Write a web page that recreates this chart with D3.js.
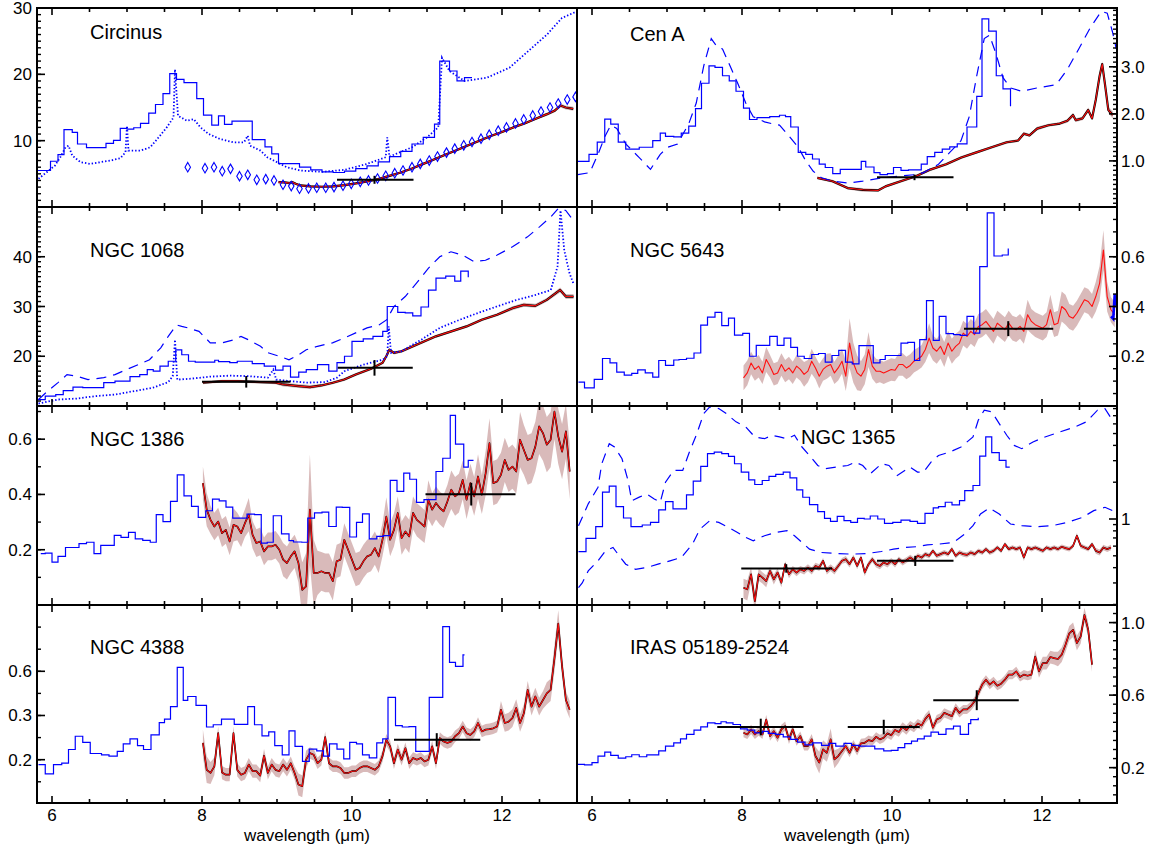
<!DOCTYPE html>
<html><head><meta charset="utf-8">
<script src="https://cdn.jsdelivr.net/npm/d3@7"></script>
<style>body{margin:0;background:#fff;} text{font-family:"Liberation Sans",Arial,Helvetica,sans-serif;fill:#000;}</style>
</head><body><svg id="c" width="1153" height="852"></svg>
<script>
// ===================== DATA (wavelength in micron, flux in plot units) =====================
const panelNames = ["Circinus","Cen A","NGC 1068","NGC 5643","NGC 1386","NGC 1365","NGC 4388","IRAS 05189-2524"];
const xMajorTicks = [6,8,10,12];

// ---- Circinus ----
const circTicks = [10,20,30], circTickLabels = ["10","20","30"];
const circStepWave = [5.80,5.98,6.08,6.16,6.27,6.34,6.46,6.72,6.82,6.91,7.00,7.09,7.18,7.29,7.38,7.48,7.57,7.66,7.76,7.93,8.02,8.13,8.22,8.30,8.40,8.67,8.84,8.93,9.02,9.30,9.45,9.60,9.75,9.90,10.05,10.20,10.35,10.50,10.65,10.80,10.95,11.10,11.17,11.30,11.40,11.50];
const circStepFlux = [5.5,6.9,7.9,11.65,11.25,9.5,8.95,9.6,10.05,11.85,11.75,11.95,12.6,14.15,15.45,17.1,20.1,19.25,18.75,16.35,13.85,12.35,13.75,12.45,12.95,10.15,9.05,8.0,6.55,6.0,5.6,5.3,5.2,5.4,5.8,6.2,6.8,7.6,8.4,9.5,10.5,12.5,22.0,20.5,19.0,19.5];
const circStepEnd = [11.6, 19.5];
const circDotWave = [5.82,5.93,6.04,6.11,6.18,6.22,6.27,6.38,6.51,6.64,6.78,6.91,6.98,7.00,7.02,7.18,7.31,7.44,7.53,7.62,7.64,7.68,7.80,7.89,7.98,8.09,8.24,8.42,8.56,8.61,8.64,8.78,8.87,9.00,9.13,9.31,9.60,9.90,10.20,10.45,10.47,10.50,10.80,11.00,11.15,11.20,11.30,11.50,11.80,12.10,12.40,12.60,12.80,13.00];
const circDotFlux = [4.25,5.25,6.25,7.5,9.0,9.25,7.75,6.75,6.5,6.75,7.0,7.35,8.25,12.25,8.5,8.5,9.0,10.75,12.0,13.5,20.75,13.75,13.0,13.25,12.0,11.0,10.25,9.75,9.75,10.75,9.25,8.5,7.5,6.75,6.0,5.5,5.3,5.6,6.5,7.5,10.5,7.6,9.0,10.5,12.0,22.5,20.5,19.0,19.5,21.0,24.0,26.0,28.5,29.5];
const circDiaWave = [7.81,8.04,8.16,8.27,8.38,8.50,8.61,8.73,8.85,8.96,9.08,9.19,9.30,9.42,9.53,9.65,9.76,9.88,9.99,10.11,10.22,10.34,10.45,10.57,10.68,10.80,10.91,11.03,11.14,11.26,11.37,11.49,11.60,11.72,11.83,11.95,12.06,12.18,12.29,12.41,12.52,12.64,12.75,12.87,12.98];
const circDiaFlux = [6.0,5.85,6.0,5.4,5.75,4.65,4.85,4.1,4.2,4.0,3.35,3.15,2.75,2.8,2.9,2.9,3.0,3.2,3.5,3.8,4.0,4.3,4.7,5.1,5.5,6.0,6.5,7.0,7.6,8.2,8.8,9.3,9.8,10.3,10.9,11.5,12.0,12.6,13.2,13.8,14.4,15.0,15.6,16.2,16.6];
const circRedWave = [9.02,9.10,9.17,9.20,9.25,9.31,9.45,9.60,9.75,9.90,10.05,10.20,10.35,10.50,10.65,10.80,10.95,11.10,11.25,11.40,11.55,11.70,11.85,12.00,12.15,12.30,12.45,12.60,12.70,12.78,12.85,12.95];
const circRedFlux = [3.75,3.7,3.6,3.75,3.5,3.25,3.1,3.05,3.1,3.3,3.55,3.85,4.2,4.7,5.2,5.8,6.5,7.2,7.9,8.6,9.3,10.0,10.7,11.3,12.0,12.6,13.3,14.0,14.5,15.3,15.0,14.8];
const circRedErr = [0.2,0.2,0.2,0.2,0.2,0.2,0.2,0.2,0.2,0.2,0.2,0.2,0.2,0.2,0.2,0.2,0.2,0.2,0.2,0.2,0.2,0.2,0.2,0.2,0.2,0.2,0.2,0.25,0.25,0.3,0.3,0.3];
const circBarWave = [10.3], circBarLo = [9.8], circBarHi = [10.82], circBarFlux = [4.1], circBarErrLo = [0.6], circBarErrHi = [0.6];

// ---- Cen A ----
const cenTicks = [1,2,3], cenTickLabels = ["1.0","2.0","3.0"];
const cenStepWave = [5.81,5.96,6.07,6.17,6.25,6.35,6.45,6.63,6.81,6.91,6.98,7.09,7.19,7.29,7.38,7.46,7.56,7.64,7.74,7.83,7.92,8.02,8.10,8.20,8.37,8.50,8.58,8.65,8.75,8.85,8.94,9.03,9.11,9.21,9.31,9.59,9.65,9.76,9.84,9.94,10.02,10.12,10.22,10.39,10.47,10.57,10.67,10.77,10.87,11.0,11.13,11.2,11.29,11.39,11.48];
const cenStepFlux = [0.99,1.14,1.40,1.89,1.78,1.40,1.25,1.29,1.43,1.59,1.52,1.51,1.59,1.74,2.11,2.65,3.02,2.99,2.81,2.70,2.48,2.12,1.88,1.92,1.94,1.97,1.94,1.72,1.18,1.14,1.04,0.93,0.86,0.73,0.82,0.99,0.87,0.75,0.71,0.73,0.86,0.80,0.81,0.93,1.09,1.18,1.25,1.30,1.36,1.72,2.37,4.02,3.76,2.81,2.53];
const cenStepEnd = [11.58, 2.16];
const cenDashWave = [5.81,5.97,6.08,6.17,6.25,6.33,6.45,6.63,6.78,6.91,7.01,7.14,7.29,7.39,7.49,7.59,7.67,7.74,7.84,7.94,8.05,8.15,8.30,8.40,8.50,8.60,8.75,8.85,8.95,9.06,9.21,9.41,9.61,9.86,10.12,10.32,10.42,10.62,10.77,10.92,11.03,11.13,11.23,11.30,11.38,11.48,11.58,11.73,11.93,12.19,12.34,12.49,12.64,12.79,12.87,12.94,12.99];
const cenDashFlux = [0.71,0.75,1.14,1.51,1.76,1.69,1.36,1.07,0.82,1.14,1.29,1.36,1.79,2.23,3.02,3.60,3.42,3.38,3.02,2.66,2.23,1.94,1.83,1.79,1.76,1.58,1.29,1.0,0.78,0.64,0.57,0.53,0.57,0.64,0.68,0.71,0.75,0.93,1.18,1.43,1.94,2.81,3.60,3.67,3.31,2.77,2.55,2.48,2.55,2.62,2.95,3.38,3.82,4.18,4.14,3.74,3.38];
const cenRedWave = [9.005,9.207,9.409,9.611,9.813,9.914,10.116,10.318,10.52,10.722,10.924,11.126,11.328,11.53,11.682,11.758,11.833,11.934,12.086,12.237,12.338,12.414,12.45,12.54,12.616,12.667,12.717,12.768,12.803,12.843,12.884,12.944];
const cenRedFlux = [0.639,0.567,0.422,0.386,0.372,0.458,0.567,0.675,0.82,0.928,1.072,1.181,1.289,1.397,1.433,1.578,1.542,1.686,1.758,1.794,1.852,1.975,1.866,1.903,2.083,1.903,2.3,2.805,3.058,2.588,2.083,1.975];
const cenRedErr = [0.03,0.03,0.03,0.04,0.03,0.03,0.03,0.03,0.03,0.03,0.03,0.03,0.03,0.03,0.03,0.04,0.03,0.04,0.03,0.03,0.04,0.05,0.04,0.04,0.05,0.04,0.05,0.06,0.06,0.05,0.06,0.08];
const cenBarWave = [10.3], cenBarLo = [9.80], cenBarHi = [10.82], cenBarFlux = [0.65], cenBarErrLo = [0.06], cenBarErrHi = [0.06];

// ---- NGC 1068 ----
const n1068Ticks = [20,30,40], n1068TickLabels = ["20","30","40"];
const n1068StepWave = [5.81,5.91,6.05,6.15,6.28,6.41,6.69,6.84,7.04,7.17,7.27,7.35,7.44,7.55,7.65,7.73,7.82,7.91,8.17,8.22,8.37,8.47,8.67,8.83,8.98,9.08,9.18,9.29,9.39,9.54,9.69,9.80,9.90,10.0,10.15,10.28,10.41,10.47,10.61,10.71,10.81,10.92,11.02,11.12,11.25,11.37,11.45];
const n1068StepFlux = [11.3,12,12.3,13.1,13.8,13.7,14.7,15,15.9,16.3,17.3,17,18,19,21.3,20.3,19,18.8,19.2,18.9,18.7,19,18.5,18,17.2,18,15.8,16.8,17.3,18.3,17,18.7,20,23,23.5,24,25,30,28.8,28.7,28.1,29.9,33.3,35.7,36.1,35.1,37.1];
const n1068StepEnd = [11.55, 35.9];
const n1068DashWave = [5.82,5.92,6.08,6.20,6.33,6.48,6.69,6.84,6.99,7.15,7.30,7.45,7.55,7.66,7.73,7.81,7.96,8.11,8.27,8.42,8.52,8.62,8.78,8.88,9.03,9.16,9.29,9.39,9.54,9.74,9.90,10.05,10.20,10.36,10.46,10.56,10.71,10.86,11.02,11.17,11.32,11.48,11.63,11.78,11.93,12.14,12.34,12.50,12.65,12.75,12.85,12.95];
const n1068DashFlux = [11.3,12.7,14.7,16.3,16.0,15.3,15.7,16.3,17.3,18.3,19.3,21.7,24.0,26.3,26.0,25.7,25.0,22.7,22.7,23.3,24.0,23.3,22.0,20.7,20.0,19.3,20.3,21.3,22.0,22.7,23.7,24.7,25.7,26.3,27.3,30.0,32.0,34.7,37.7,40.0,41.0,40.3,39.0,39.3,40.3,42.0,44.0,46.0,48.0,49.7,49.3,47.3];
const n1068DotWave = [5.82,6.08,6.33,6.59,6.84,7.10,7.35,7.55,7.61,7.64,7.67,7.86,8.11,8.37,8.62,8.88,8.95,8.99,9.18,9.39,9.64,9.80,9.90,10.15,10.41,10.47,10.49,10.52,10.66,10.92,11.17,11.43,11.68,11.93,12.19,12.44,12.65,12.74,12.78,12.83,12.90,12.95];
const n1068DotFlux = [10.5,11.3,11.5,12.0,12.3,13.0,13.7,14.8,16.0,23.3,15.3,15.5,15.9,16.1,16.0,15.7,17.3,15.3,15.0,14.7,14.8,15.7,17.0,18.3,19.3,20.0,26.0,20.7,21.0,23.3,25.7,27.3,28.7,30.0,31.3,32.3,33.3,38.0,49.3,41.3,36.7,34.7];
const n1068RedWave = [8.012,8.267,8.471,8.776,8.98,9.082,9.286,9.439,9.592,9.744,9.897,10.05,10.254,10.407,10.457,10.498,10.559,10.661,10.814,10.967,11.12,11.324,11.527,11.731,11.935,12.139,12.291,12.444,12.597,12.775,12.852,12.954];
const n1068RedFlux = [14.67,15,15,14.8,14.67,14.33,14,13.8,14.13,14.67,15.33,16.33,17.47,18.67,20,21.33,20.67,21,22,23,24,25,26,27.33,28.33,29.67,30.33,30.13,31.33,33.33,32,32];
const n1068RedErr = [0.3,0.3,0.3,0.3,0.3,0.4,0.4,0.4,0.3,0.3,0.3,0.3,0.3,0.3,0.3,0.3,0.3,0.3,0.3,0.3,0.3,0.3,0.3,0.3,0.3,0.4,0.4,0.4,0.4,0.5,0.5,0.5];
const n1068BarWave = [8.59,10.30], n1068BarLo = [8.0,9.81], n1068BarHi = [9.18,10.81], n1068BarFlux = [14.87,17.67], n1068BarErrLo = [1.17,1.57], n1068BarErrHi = [1.17,1.57];

// ---- NGC 5643 ----
const n5643Ticks = [0.2,0.4,0.6], n5643TickLabels = ["0.2","0.4","0.6"];
const n5643StepWave = [5.82,5.90,6.03,6.14,6.24,6.33,6.43,6.53,6.61,6.71,6.81,6.89,6.98,7.09,7.16,7.26,7.36,7.45,7.54,7.64,7.73,7.82,7.90,8.01,8.10,8.19,8.28,8.37,8.47,8.56,8.65,8.74,8.83,8.93,9.02,9.11,9.20,9.29,9.38,9.47,9.56,9.75,9.84,9.91,10.02,10.12,10.21,10.30,10.37,10.46,10.55,10.63,10.72,10.82,10.91,11.0,11.09,11.17,11.27,11.36,11.47];
const n5643StepFlux = [0.096,0.073,0.107,0.191,0.173,0.136,0.124,0.131,0.145,0.133,0.116,0.183,0.163,0.185,0.187,0.192,0.213,0.325,0.357,0.376,0.323,0.353,0.285,0.292,0.2,0.244,0.244,0.28,0.244,0.273,0.236,0.2,0.191,0.207,0.211,0.176,0.203,0.224,0.176,0.169,0.243,0.173,0.187,0.203,0.203,0.253,0.256,0.183,0.267,0.424,0.264,0.36,0.291,0.287,0.284,0.36,0.293,0.56,0.776,0.603,0.607];
const n5643StepEnd = [11.55, 0.633];
const n5643EdgeWave = [12.92,12.95,12.97,13.0];
const n5643EdgeFlux = [0.36,0.35,0.45,0.40];
const n5643RedRange = [8.02, 12.97];
const n5643RedFlux = [0.113,0.133,0.173,0.147,0.16,0.133,0.187,0.16,0.127,0.133,0.167,0.14,0.153,0.133,0.16,0.147,0.127,0.14,0.18,0.153,0.12,0.147,0.16,0.167,0.133,0.153,0.18,0.12,0.253,0.173,0.133,0.12,0.147,0.227,0.16,0.14,0.14,0.133,0.14,0.147,0.144,0.167,0.167,0.153,0.163,0.18,0.189,0.2,0.227,0.273,0.233,0.22,0.24,0.207,0.253,0.22,0.24,0.253,0.293,0.28,0.3,0.287,0.32,0.327,0.34,0.32,0.3,0.333,0.32,0.307,0.333,0.313,0.307,0.32,0.3,0.367,0.34,0.327,0.32,0.313,0.327,0.387,0.327,0.333,0.4,0.387,0.36,0.353,0.373,0.4,0.427,0.42,0.4,0.44,0.493,0.627,0.44,0.387,0.367];
const n5643RedErr = [0.05,0.05,0.045,0.045,0.045,0.045,0.05,0.045,0.045,0.045,0.045,0.045,0.045,0.045,0.045,0.045,0.05,0.045,0.05,0.045,0.05,0.045,0.05,0.045,0.045,0.05,0.05,0.06,0.1,0.08,0.07,0.06,0.06,0.07,0.05,0.05,0.045,0.045,0.045,0.045,0.045,0.045,0.045,0.045,0.045,0.045,0.045,0.045,0.05,0.06,0.05,0.05,0.05,0.05,0.05,0.05,0.05,0.05,0.05,0.05,0.05,0.05,0.05,0.05,0.05,0.05,0.05,0.05,0.05,0.05,0.05,0.05,0.05,0.05,0.05,0.06,0.05,0.05,0.05,0.05,0.05,0.06,0.05,0.05,0.06,0.06,0.05,0.05,0.05,0.05,0.05,0.05,0.05,0.06,0.07,0.08,0.06,0.05,0.05];
const n5643BarWave = [11.55], n5643BarLo = [10.96], n5643BarHi = [12.15], n5643BarFlux = [0.311], n5643BarErrLo = [0.03], n5643BarErrHi = [0.03];

// ---- NGC 1386 ----
const n1386Ticks = [0.2,0.4,0.6], n1386TickLabels = ["0.2","0.4","0.6"];
const n1386StepWave = [5.85,5.91,6.0,6.08,6.18,6.36,6.46,6.56,6.65,6.83,6.92,7.02,7.11,7.21,7.31,7.39,7.48,7.58,7.67,7.76,7.86,7.95,8.05,8.14,8.23,8.32,8.41,8.60,8.70,8.79,8.87,8.95,9.06,9.16,9.22,9.33,9.41,9.50,9.60,9.69,9.79,9.87,9.97,10.06,10.14,10.23,10.33,10.42,10.51,10.60,10.69,10.77,10.86,10.96,11.12,11.21,11.31,11.38,11.49,11.55];
const n1386StepFlux = [0.186,0.188,0.155,0.176,0.208,0.222,0.227,0.186,0.216,0.252,0.245,0.263,0.239,0.234,0.227,0.327,0.302,0.375,0.471,0.395,0.357,0.317,0.341,0.383,0.377,0.354,0.314,0.329,0.327,0.224,0.227,0.323,0.257,0.233,0.228,0.227,0.314,0.333,0.336,0.284,0.354,0.353,0.246,0.299,0.330,0.239,0.248,0.251,0.451,0.411,0.477,0.455,0.371,0.381,0.483,0.531,0.686,0.582,0.499,0.523];
const n1386StepEnd = [11.62, 0.523];
const n1386RedRange = [8.012, 12.903];
const n1386RedFlux = [0.441,0.345,0.308,0.284,0.302,0.26,0.272,0.23,0.29,0.284,0.26,0.296,0.327,0.254,0.224,0.23,0.194,0.212,0.212,0.218,0.2,0.164,0.152,0.176,0.194,0.152,0.055,0.067,0.345,0.116,0.116,0.122,0.116,0.116,0.086,0.158,0.164,0.236,0.2,0.164,0.128,0.134,0.158,0.176,0.182,0.206,0.176,0.236,0.32,0.236,0.272,0.333,0.242,0.266,0.248,0.333,0.308,0.296,0.284,0.381,0.345,0.369,0.351,0.339,0.375,0.417,0.393,0.405,0.453,0.381,0.441,0.393,0.465,0.399,0.477,0.586,0.441,0.447,0.471,0.525,0.489,0.501,0.483,0.598,0.561,0.525,0.531,0.573,0.646,0.622,0.58,0.598,0.7,0.61,0.555,0.628,0.483];
const n1386RedErr = [0.06,0.06,0.05,0.05,0.05,0.05,0.05,0.05,0.06,0.05,0.05,0.05,0.06,0.05,0.05,0.05,0.05,0.05,0.05,0.05,0.05,0.06,0.06,0.06,0.06,0.07,0.1,0.12,0.2,0.12,0.08,0.07,0.07,0.07,0.07,0.06,0.06,0.06,0.06,0.06,0.06,0.06,0.06,0.06,0.06,0.06,0.06,0.06,0.07,0.06,0.06,0.06,0.06,0.06,0.06,0.06,0.06,0.06,0.06,0.07,0.06,0.06,0.06,0.06,0.06,0.07,0.07,0.07,0.07,0.07,0.07,0.07,0.08,0.07,0.08,0.09,0.08,0.08,0.08,0.08,0.08,0.08,0.08,0.1,0.09,0.09,0.09,0.09,0.1,0.1,0.1,0.1,0.1,0.1,0.1,0.1,0.1];
const n1386BarWave = [11.59], n1386BarLo = [10.98], n1386BarHi = [12.18], n1386BarFlux = [0.401], n1386BarErrLo = [0.041], n1386BarErrHi = [0.041];

// ---- NGC 1365 (log axis) ----
const n1365Ticks = [1], n1365TickLabels = ["1"];
const n1365StepWave = [5.82,5.92,6.05,6.14,6.23,6.32,6.42,6.52,6.67,6.78,6.89,6.98,7.08,7.26,7.35,7.45,7.54,7.63,7.73,7.82,7.90,7.99,8.09,8.17,8.27,8.36,8.45,8.55,8.64,8.73,8.81,8.90,9.01,9.10,9.18,9.27,9.36,9.45,9.54,9.63,9.71,9.81,9.90,10.01,10.12,10.24,10.34,10.44,10.55,10.62,10.71,10.80,10.90,10.97,11.08,11.17,11.25,11.33,11.43,11.52];
const n1365StepFlux = [0.542,0.694,0.865,1.656,1.856,1.263,1.019,0.865,0.893,0.939,1.186,1.388,1.208,1.575,2.04,2.69,3.42,3.53,3.42,3.25,2.83,2.42,2.09,1.915,2.066,2.23,2.315,2.42,2.17,1.73,1.507,1.31,1.149,1.013,0.957,1.052,0.969,0.939,1.013,1.0,1.058,1.0,0.921,0.939,0.981,0.957,0.921,1.113,1.231,1.263,1.371,1.304,1.415,1.709,1.879,3.27,4.69,3.49,3.015,2.66];
const n1365StepEnd = [11.57, 2.66];
const n1365DashHiWave = [5.82,5.95,6.08,6.13,6.23,6.30,6.40,6.48,6.53,6.63,6.73,6.83,6.91,6.98,7.09,7.21,7.29,7.39,7.49,7.57,7.69,7.79,7.92,8.05,8.17,8.30,8.40,8.50,8.60,8.70,8.80,8.90,9.01,9.11,9.26,9.41,9.51,9.61,9.71,9.86,9.96,10.07,10.14,10.24,10.34,10.42,10.52,10.62,10.77,10.92,11.08,11.15,11.23,11.33,11.43,11.53,11.63,11.73,11.88,12.04,12.24,12.44,12.59,12.74,12.84,12.94];
const n1365DashHiFlux = [0.88,1.33,1.82,2.83,4.13,3.88,3.11,2.07,1.41,1.51,1.60,1.46,1.37,2.0,2.50,2.50,3.42,4.84,7.28,8.27,8.0,7.28,6.23,5.67,4.69,4.54,4.84,4.69,4.54,4.84,3.88,3.31,2.74,2.58,2.66,2.74,2.92,2.74,2.34,2.83,2.74,2.27,2.42,2.66,2.42,2.42,2.92,3.31,3.53,3.88,4.69,6.42,7.76,7.52,6.03,4.84,4.00,3.76,4.27,4.69,5.16,5.67,6.23,7.76,8.0,6.42];
const n1365DashLoWave = [5.82,5.87,5.95,6.08,6.18,6.28,6.38,6.45,6.58,6.73,6.88,7.04,7.19,7.34,7.44,7.57,7.69,7.82,7.94,8.05,8.15,8.30,8.45,8.60,8.70,8.80,8.90,9.06,9.26,9.46,9.66,9.86,10.02,10.17,10.32,10.47,10.62,10.82,10.97,11.08,11.18,11.30,11.43,11.58,11.73,11.93,12.14,12.34,12.54,12.69,12.84,12.94];
const n1365DashLoFlux = [0.275,0.30,0.376,0.455,0.549,0.585,0.484,0.427,0.388,0.401,0.427,0.455,0.484,0.623,0.827,0.969,0.939,0.854,0.777,0.707,0.664,0.73,0.777,0.802,0.73,0.643,0.567,0.532,0.522,0.516,0.522,0.542,0.567,0.585,0.593,0.615,0.623,0.643,0.753,0.882,1.099,1.231,1.099,0.910,0.882,0.865,0.882,0.939,1.032,1.171,1.247,1.171];
const n1365RedRange = [8.02, 12.92];
const n1365RedFlux = [0.274,0.266,0.353,0.213,0.353,0.332,0.311,0.376,0.321,0.365,0.302,0.427,0.353,0.388,0.365,0.388,0.376,0.401,0.376,0.413,0.401,0.455,0.376,0.401,0.376,0.413,0.455,0.469,0.427,0.484,0.413,0.484,0.365,0.427,0.469,0.427,0.413,0.441,0.427,0.455,0.427,0.469,0.441,0.461,0.484,0.461,0.5,0.484,0.516,0.5,0.549,0.5,0.516,0.532,0.516,0.567,0.5,0.532,0.516,0.509,0.532,0.516,0.549,0.532,0.567,0.532,0.549,0.585,0.549,0.623,0.567,0.585,0.567,0.585,0.484,0.585,0.567,0.585,0.567,0.549,0.585,0.567,0.585,0.567,0.593,0.578,0.567,0.604,0.73,0.604,0.585,0.567,0.623,0.549,0.532,0.585,0.567,0.585];
const n1365RedErr = [0.05,0.05,0.05,0.04,0.04,0.035,0.035,0.03,0.03,0.03,
 0.025,0.025,0.025,0.025,0.025,0.025,0.025,0.025,0.025,0.025,
 0.025,0.025,0.025,0.025,0.025,0.025,0.025,0.03,0.025,0.025,
 0.025,0.025,0.025,0.025,0.025,0.025,0.025,0.025,0.025,0.025,
 0.025,0.025,0.025,0.025,0.025,0.025,0.025,0.025,0.025,0.025,
 0.025,0.025,0.025,0.025,0.025,0.025,0.025,0.025,0.025,0.025,
 0.025,0.025,0.025,0.025,0.025,0.025,0.025,0.025,0.025,0.025,
 0.025,0.025,0.025,0.025,0.03,0.025,0.025,0.025,0.025,0.025,
 0.025,0.025,0.025,0.025,0.025,0.025,0.025,0.025,0.04,0.03,
 0.025,0.025,0.025,0.03,0.03,0.03,0.03,0.03];
const n1365BarWave = [8.59,10.31], n1365BarLo = [7.99,9.80], n1365BarHi = [9.20,10.82], n1365BarFlux = [0.393,0.455], n1365BarErrLo = [0.029,0.042], n1365BarErrHi = [0.034,0.045];

// ---- NGC 4388 ----
const n4388Ticks = [0.2,0.3,0.4], n4388TickLabels = ["0.2","0.3","0.6"];
const n4388StepWave = [5.82,5.91,6.02,6.13,6.22,6.31,6.41,6.51,6.66,6.76,6.87,6.95,7.04,7.14,7.22,7.32,7.43,7.50,7.58,7.67,7.75,7.81,7.92,8.06,8.15,8.26,8.43,8.61,8.70,8.80,8.89,8.97,9.07,9.16,9.24,9.34,9.43,9.53,9.62,9.70,9.80,9.89,9.97,10.06,10.14,10.23,10.33,10.41,10.48,10.58,10.67,10.76,10.85,11.03,11.21,11.30,11.38,11.48];
const n4388StepFlux = [0.189,0.168,0.189,0.192,0.223,0.253,0.239,0.214,0.211,0.208,0.219,0.236,0.247,0.232,0.223,0.256,0.284,0.292,0.32,0.409,0.334,0.343,0.323,0.274,0.279,0.292,0.28,0.32,0.279,0.254,0.263,0.232,0.211,0.265,0.23,0.196,0.224,0.22,0.208,0.236,0.224,0.202,0.239,0.236,0.211,0.204,0.238,0.247,0.341,0.277,0.274,0.275,0.219,0.341,0.501,0.42,0.411,0.437];
const n4388StepEnd = [11.50, 0.437];
const n4388RedRange = [8.012, 12.903];
const n4388RedFlux = [0.238,0.177,0.17,0.185,0.26,0.171,0.166,0.166,0.26,0.177,0.166,0.17,0.189,0.174,0.174,0.164,0.209,0.17,0.189,0.177,0.174,0.189,0.177,0.192,0.17,0.144,0.14,0.2,0.215,0.211,0.192,0.2,0.251,0.192,0.185,0.185,0.181,0.17,0.17,0.174,0.174,0.181,0.185,0.185,0.181,0.177,0.185,0.208,0.245,0.23,0.192,0.223,0.2,0.226,0.192,0.204,0.2,0.204,0.196,0.2,0.23,0.192,0.249,0.241,0.238,0.241,0.253,0.26,0.275,0.26,0.256,0.264,0.283,0.264,0.268,0.269,0.271,0.275,0.313,0.283,0.286,0.294,0.317,0.283,0.305,0.358,0.32,0.343,0.32,0.335,0.35,0.358,0.429,0.508,0.411,0.335,0.313];
const n4388RedErr = [0.03,0.03,0.025,0.02,0.015,0.015,0.015,0.015,0.015,0.015,
 0.015,0.015,0.015,0.015,0.015,0.015,0.015,0.015,0.015,0.015,
 0.015,0.015,0.015,0.015,0.015,0.025,0.025,0.02,0.013,0.013,
 0.013,0.013,0.013,0.013,0.013,0.013,0.013,0.013,0.013,0.013,
 0.013,0.013,0.013,0.013,0.013,0.013,0.013,0.013,0.013,0.013,
 0.013,0.013,0.013,0.013,0.013,0.013,0.013,0.013,0.013,0.013,
 0.013,0.013,0.013,0.013,0.013,0.013,0.013,0.013,0.013,0.013,
 0.013,0.013,0.013,0.013,0.013,0.013,0.013,0.013,0.02,0.02,
 0.02,0.02,0.02,0.02,0.02,0.02,0.02,0.02,0.02,0.02,
 0.025,0.025,0.03,0.03,0.025,0.02,0.02];
const n4388BarWave = [11.13], n4388BarLo = [10.56], n4388BarHi = [11.71], n4388BarFlux = [0.245], n4388BarErrLo = [0.015], n4388BarErrHi = [0.015];

// ---- IRAS 05189-2524 ----
const irasTicks = [0.2,0.6,1.0], irasTickLabels = ["0.2","0.6","1.0"];
const irasStepWave = [5.81,5.90,6.0,6.08,6.17,6.25,6.35,6.45,6.53,6.63,6.73,6.89,6.98,7.09,7.18,7.26,7.36,7.45,7.54,7.64,7.72,7.79,7.88,7.98,8.07,8.17,8.27,8.35,8.45,8.55,8.65,8.74,8.84,8.94,9.06,9.16,9.25,9.36,9.46,9.56,9.66,9.77,9.89,9.99,10.08,10.17,10.26,10.34,10.43,10.52,10.62,10.72,10.82,10.91,11.02,11.05];
const irasStepFlux = [0.218,0.215,0.228,0.264,0.286,0.268,0.253,0.26,0.271,0.26,0.27,0.292,0.319,0.337,0.359,0.383,0.407,0.425,0.447,0.443,0.453,0.447,0.438,0.414,0.407,0.392,0.4,0.389,0.383,0.37,0.356,0.341,0.326,0.337,0.323,0.334,0.319,0.334,0.323,0.319,0.319,0.304,0.292,0.295,0.31,0.332,0.346,0.359,0.374,0.396,0.383,0.414,0.429,0.383,0.443,0.465];
const irasStepEnd = [11.15, 0.475];
const irasRedRange = [8.02, 12.667];
const irasRedFlux = [0.392,0.383,0.411,0.383,0.401,0.383,0.465,0.374,0.401,0.365,0.411,0.429,0.356,0.411,0.346,0.374,0.319,0.319,0.356,0.264,0.228,0.301,0.282,0.356,0.246,0.264,0.292,0.319,0.282,0.328,0.292,0.334,0.337,0.352,0.346,0.37,0.356,0.365,0.389,0.378,0.407,0.396,0.425,0.407,0.432,0.42,0.443,0.432,0.469,0.493,0.42,0.465,0.475,0.502,0.493,0.484,0.53,0.502,0.521,0.521,0.539,0.566,0.612,0.658,0.685,0.658,0.676,0.652,0.663,0.685,0.713,0.713,0.731,0.7,0.713,0.707,0.713,0.813,0.731,0.776,0.776,0.81,0.804,0.799,0.823,0.878,0.941,0.96,0.887,0.923,1.042,0.96,0.768];
const irasRedErr = [0.025,0.025,0.025,0.025,0.025,0.025,0.025,0.025,0.025,0.025,
 0.025,0.025,0.025,0.025,0.025,0.025,0.025,0.025,0.03,0.05,
 0.06,0.05,0.05,0.06,0.05,0.04,0.03,0.025,0.025,0.025,
 0.025,0.025,0.025,0.025,0.025,0.025,0.025,0.025,0.025,0.025,
 0.025,0.025,0.025,0.025,0.025,0.025,0.025,0.025,0.025,0.025,
 0.025,0.025,0.025,0.025,0.025,0.025,0.025,0.025,0.025,0.025,
 0.025,0.025,0.025,0.025,0.025,0.025,0.025,0.025,0.025,0.025,
 0.025,0.025,0.025,0.025,0.025,0.025,0.025,0.035,0.035,0.035,
 0.035,0.035,0.035,0.04,0.04,0.04,0.04,0.04,0.04,0.04,
 0.04,0.04,0.04];
const irasBarWave = [8.25,9.89,11.13], irasBarLo = [7.67,9.41,10.55], irasBarHi = [8.82,10.37,11.69], irasBarFlux = [0.424,0.424,0.572], irasBarErrLo = [0.046,0.04,0.055], irasBarErrHi = [0.046,0.04,0.055];

// ===================== LAYOUT / STYLE =====================
const colLeft = [37, 577], panelW = 540;
const rowTopBot = [[8,207],[207,406],[406,605],[605,803]];
const FONT = '"Liberation Sans", Arial, Helvetica, sans-serif';
const BLUE = "#0000ff", RED = "#ff1010", BAND = "#d2aeae";

function pairs(w, f){ const n = Math.min(w.length, f.length); const a = []; for (let i=0;i<n;i++) a.push([w[i], f[i]]); return a; }
function gridWave(range, n){ const a=[]; for (let i=0;i<n;i++) a.push(range[0] + (range[1]-range[0])*i/(n-1)); return a; }

const panels = [
 {name:panelNames[0], col:0,row:0, dom:[0,30], ticks:circTicks, tickLabels:circTickLabels, minor:{step:1},
  label:[90,39],
  steps:[{w:circStepWave,f:circStepFlux,end:circStepEnd}], dashed:[], dotted:[{w:circDotWave,f:circDotFlux}],
  diamonds:{w:circDiaWave,f:circDiaFlux},
  red:{w:circRedWave,f:circRedFlux,e:circRedErr,black:true},
  bars:{c:circBarWave,lo:circBarLo,hi:circBarHi,f:circBarFlux,el:circBarErrLo,eh:circBarErrHi}},
 {name:panelNames[1], col:1,row:0, dom:[0.02,4.25], ticks:cenTicks, tickLabels:cenTickLabels, minor:{step:0.1},
  label:[630,40.5],
  steps:[{w:cenStepWave,f:cenStepFlux,end:cenStepEnd}], dashed:[{w:cenDashWave,f:cenDashFlux}], dotted:[],
  red:{w:cenRedWave,f:cenRedFlux,e:cenRedErr,black:true},
  bars:{c:cenBarWave,lo:cenBarLo,hi:cenBarHi,f:cenBarFlux,el:cenBarErrLo,eh:cenBarErrHi}},
 {name:panelNames[2], col:0,row:1, dom:[10,50], ticks:n1068Ticks, tickLabels:n1068TickLabels, minor:{step:1},
  label:[90,257],
  steps:[{w:n1068StepWave,f:n1068StepFlux,end:n1068StepEnd}], dashed:[{w:n1068DashWave,f:n1068DashFlux}], dotted:[{w:n1068DotWave,f:n1068DotFlux}],
  red:{w:n1068RedWave,f:n1068RedFlux,e:n1068RedErr,black:true},
  bars:{c:n1068BarWave,lo:n1068BarLo,hi:n1068BarHi,f:n1068BarFlux,el:n1068BarErrLo,eh:n1068BarErrHi}},
 {name:panelNames[3], col:1,row:1, dom:[0,0.8], ticks:n5643Ticks, tickLabels:n5643TickLabels, minor:{step:0.05},
  label:[630,257],
  steps:[{w:n5643StepWave,f:n5643StepFlux,end:n5643StepEnd}], dashed:[], dotted:[],
  thick:{w:n5643EdgeWave,f:n5643EdgeFlux},
  red:{range:n5643RedRange,f:n5643RedFlux,e:n5643RedErr,black:false},
  bars:{c:n5643BarWave,lo:n5643BarLo,hi:n5643BarHi,f:n5643BarFlux,el:n5643BarErrLo,eh:n5643BarErrHi}},
 {name:panelNames[4], col:0,row:2, dom:[0,0.72], ticks:n1386Ticks, tickLabels:n1386TickLabels, minor:{step:0.1},
  label:[90,445.5],
  steps:[{w:n1386StepWave,f:n1386StepFlux,end:n1386StepEnd}], dashed:[], dotted:[],
  red:{range:n1386RedRange,f:n1386RedFlux,e:n1386RedErr,black:true,thinBlack:true},
  bars:{c:n1386BarWave,lo:n1386BarLo,hi:n1386BarHi,f:n1386BarFlux,el:n1386BarErrLo,eh:n1386BarErrHi}},
 {name:panelNames[5], col:1,row:2, dom:[0.198,8.4], log:true, ticks:n1365Ticks, tickLabels:n1365TickLabels,
  minor:{list:[0.2,0.3,0.4,0.5,0.6,0.7,0.8,0.9,2,3,4,5,6,7,8]},
  label:[801,444],
  steps:[{w:n1365StepWave,f:n1365StepFlux,end:n1365StepEnd}],
  dashed:[{w:n1365DashHiWave,f:n1365DashHiFlux},{w:n1365DashLoWave,f:n1365DashLoFlux}], dotted:[],
  red:{range:n1365RedRange,f:n1365RedFlux,e:n1365RedErr,black:true,thinBlack:true},
  bars:{c:n1365BarWave,lo:n1365BarLo,hi:n1365BarHi,f:n1365BarFlux,el:n1365BarErrLo,eh:n1365BarErrHi}},
 {name:panelNames[6], col:0,row:3, dom:[0.102,0.55], ticks:n4388Ticks, tickLabels:n4388TickLabels, minor:{step:0.05},
  label:[90,654],
  steps:[{w:n4388StepWave,f:n4388StepFlux,end:n4388StepEnd}], dashed:[], dotted:[],
  red:{range:n4388RedRange,f:n4388RedFlux,e:n4388RedErr,black:true,thinBlack:true},
  bars:{c:n4388BarWave,lo:n4388BarLo,hi:n4388BarHi,f:n4388BarFlux,el:n4388BarErrLo,eh:n4388BarErrHi}},
 {name:panelNames[7], col:1,row:3, dom:[0.005,1.097], ticks:irasTicks, tickLabels:irasTickLabels, minor:{step:0.05},
  label:[630,654],
  steps:[{w:irasStepWave,f:irasStepFlux,end:irasStepEnd}], dashed:[], dotted:[],
  red:{range:irasRedRange,f:irasRedFlux,e:irasRedErr,black:true,thinBlack:true},
  bars:{c:irasBarWave,lo:irasBarLo,hi:irasBarHi,f:irasBarFlux,el:irasBarErrLo,eh:irasBarErrHi}}
];

const svg = d3.select("#c");
svg.append("rect").attr("width",1153).attr("height",852).attr("fill","#fff");
const defs = svg.append("defs");

panels.forEach((p, pi) => {
  const x0 = colLeft[p.col], [yT, yB] = rowTopBot[p.row];
  const x = d3.scaleLinear().domain([5.8, 13.0]).range([x0, x0 + panelW]);
  const y = (p.log ? d3.scaleLog() : d3.scaleLinear()).domain(p.dom).range([yB, yT]);
  const cid = "clip" + pi;
  defs.append("clipPath").attr("id", cid).append("rect")
    .attr("x", x0).attr("y", yT).attr("width", panelW).attr("height", yB - yT);
  const g = svg.append("g");
  const pg = g.append("g").attr("clip-path", `url(#${cid})`);
  const line = d3.line().x(d => x(d[0])).y(d => y(d[1]));

  // red spectrum with error band
  if (p.red) {
    const r = p.red;
    const w = r.w ? r.w : gridWave(r.range, r.f.length);
    const pts = w.map((wv, i) => ({w: wv, f: r.f[i], e: r.e[i] || 0}));
    pg.append("path").datum(pts)
      .attr("d", d3.area().x(d => x(d.w))
        .y0(d => y(p.log ? Math.max(d.f - d.e, p.dom[0] * 0.5) : d.f - d.e))
        .y1(d => y(d.f + d.e)))
      .attr("fill", BAND).attr("fill-opacity", 0.85).attr("stroke", "none");
    if (r.black) {
      pg.append("path").datum(pairs(w, r.f)).attr("d", line)
        .attr("fill", "none").attr("stroke", "#000").attr("stroke-width", r.thinBlack ? 1.7 : 2.2)
        .attr("stroke-linejoin", "round");
    }
    pg.append("path").datum(pairs(w, r.f)).attr("d", line)
      .attr("fill", "none").attr("stroke", RED).attr("stroke-width", 1.1).attr("stroke-linejoin", "round");
  }

  // blue step spectra
  p.steps.forEach(s => {
    const pts = pairs(s.w, s.f).concat([s.end]);
    pg.append("path").datum(pts).attr("d", d3.line().curve(d3.curveStepAfter).x(d => x(d[0])).y(d => y(d[1])))
      .attr("fill", "none").attr("stroke", BLUE).attr("stroke-width", 1.2);
  });
  // dashed
  p.dashed.forEach(s => {
    pg.append("path").datum(pairs(s.w, s.f)).attr("d", line)
      .attr("fill", "none").attr("stroke", BLUE).attr("stroke-width", 1.2).attr("stroke-dasharray", "10,7");
  });
  // dotted
  p.dotted.forEach(s => {
    pg.append("path").datum(pairs(s.w, s.f)).attr("d", line)
      .attr("fill", "none").attr("stroke", BLUE).attr("stroke-width", 1.8).attr("stroke-dasharray", "1.4,2");
  });
  if (p.thick) {
    pg.append("path").datum(pairs(p.thick.w, p.thick.f)).attr("d", line)
      .attr("fill", "none").attr("stroke", BLUE).attr("stroke-width", 2.6);
  }
  if (p.diamonds) {
    const sym = d3.symbol().type(d3.symbolDiamond).size(26);
    pg.selectAll("path.dia").data(pairs(p.diamonds.w, p.diamonds.f)).join("path").attr("class","dia")
      .attr("d", sym).attr("transform", d => `translate(${x(d[0])},${y(d[1])})`)
      .attr("fill", "none").attr("stroke", BLUE).attr("stroke-width", 1.1);
  }
  // photometry bars
  if (p.bars) {
    const b = p.bars;
    b.c.forEach((c, i) => {
      g.append("line").attr("x1", x(b.lo[i])).attr("x2", x(b.hi[i])).attr("y1", y(b.f[i])).attr("y2", y(b.f[i]))
        .attr("stroke", "#000").attr("stroke-width", 2);
      g.append("line").attr("x1", x(c)).attr("x2", x(c)).attr("y1", y(b.f[i] - b.el[i])).attr("y2", y(b.f[i] + b.eh[i]))
        .attr("stroke", "#000").attr("stroke-width", 2);
    });
  }

  // frame
  g.append("rect").attr("x", x0).attr("y", yT).attr("width", panelW).attr("height", yB - yT)
    .attr("fill", "none").attr("stroke", "#000").attr("stroke-width", 2);

  // x ticks (top and bottom, inward)
  const xMinor = d3.range(6, 13.01, 0.5);
  xMinor.forEach(t => {
    const isMaj = xMajorTicks.includes(t);
    const len = isMaj ? 7 : 4;
    g.append("line").attr("x1", x(t)).attr("x2", x(t)).attr("y1", yB).attr("y2", yB - len).attr("stroke", "#000").attr("stroke-width", 1.6);
    g.append("line").attr("x1", x(t)).attr("x2", x(t)).attr("y1", yT).attr("y2", yT + len).attr("stroke", "#000").attr("stroke-width", 1.6);
  });
  if (p.row === 3) {
    xMajorTicks.forEach(t => {
      g.append("text").attr("x", x(t)).attr("y", 821).attr("text-anchor", "middle")
        .style("font-family", FONT).style("font-size", "17px").text(String(t));
    });
    g.append("text").attr("x", x0 + panelW / 2).attr("y", 841).attr("text-anchor", "middle")
      .style("font-family", FONT).style("font-size", "17px").text("wavelength (\u03bcm)");
  }

  // y ticks
  const axX = p.col === 0 ? x0 : x0 + panelW;
  const dir = p.col === 0 ? 1 : -1;
  let minors = p.minor.list ? p.minor.list : d3.range(Math.ceil(p.dom[0] / p.minor.step - 1e-6) * p.minor.step, p.dom[1] + 1e-9, p.minor.step);
  minors.forEach(t => {
    if (t < p.dom[0] || t > p.dom[1]) return;
    g.append("line").attr("x1", axX).attr("x2", axX + dir * 4).attr("y1", y(t)).attr("y2", y(t)).attr("stroke", "#000").attr("stroke-width", 1.4);
  });
  p.ticks.forEach((t, i) => {
    g.append("line").attr("x1", axX).attr("x2", axX + dir * 8).attr("y1", y(t)).attr("y2", y(t)).attr("stroke", "#000").attr("stroke-width", 1.6);
    g.append("text").attr("x", p.col === 0 ? axX - 5 : axX + 4).attr("y", y(t) + 6)
      .attr("text-anchor", p.col === 0 ? "end" : "start")
      .style("font-family", FONT).style("font-size", "17px").text(p.tickLabels[i]);
  });

  // panel name
  g.append("text").attr("x", p.label[0]).attr("y", p.label[1]).style("font-family", FONT).style("font-size", "20px").text(p.name);
});
</script></body></html>
